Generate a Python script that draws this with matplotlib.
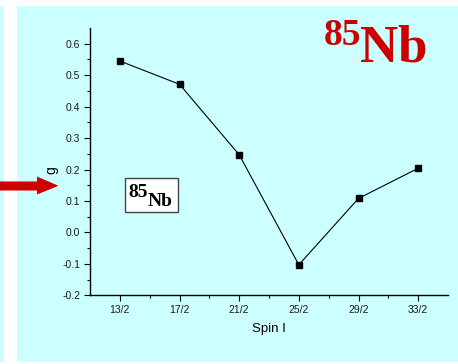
import matplotlib
matplotlib.use("Agg")
import matplotlib.pyplot as plt
import matplotlib.patches as mpatches
import numpy as np

# Spin values and measured g-factors for 85Nb
spins = ["13/2", "17/2", "21/2", "25/2", "29/2", "33/2"]
g_values = [0.545, 0.471, 0.247, -0.103, 0.108, 0.204]
y_ticks = [-0.2, -0.1, 0.0, 0.1, 0.2, 0.3, 0.4, 0.5, 0.6]

W, H = 458, 364
fig = plt.figure(figsize=(W / 100, H / 100), dpi=100, facecolor="white")

cyan = "#CCFFFF"
red = "#CC0000"

def px(x, y):
    """Pixel position (from top-left) to figure fraction."""
    return x / W, 1 - y / H

# background panels
fig.patches.append(mpatches.Rectangle(px(0, 362), 4 / W, 356 / H,
                                      transform=fig.transFigure, facecolor=cyan,
                                      edgecolor="none", zorder=-2))
fig.patches.append(mpatches.Rectangle(px(17, 362), (W - 17) / W, 356 / H,
                                      transform=fig.transFigure, facecolor=cyan,
                                      edgecolor="none", zorder=-2))

ax = fig.add_axes([90 / W, 1 - 295.3 / H, (448 - 90) / W, (295.3 - 28) / H])
ax.set_facecolor("none")
ax.set_zorder(1)

x = np.arange(len(spins))
ax.plot(x, g_values, color="black", lw=0.8, marker="s", ms=4.5,
        markerfacecolor="black", markeredgecolor="black")

ax.set_xlim(-0.5, len(spins) - 0.5)
ax.set_ylim(-0.2, 0.65)
ax.set_xticks(x)
ax.set_xticklabels(spins)
ax.set_xticks(x[:-1] + 0.5, minor=True)
ax.set_yticks(y_ticks)
ax.set_yticklabels([f"{v:.1f}" for v in y_ticks])
ax.set_yticks(np.arange(-0.15, 0.65, 0.1), minor=True)

for side in ("top", "right"):
    ax.spines[side].set_visible(False)
for side in ("left", "bottom"):
    ax.spines[side].set_linewidth(1.0)

ax.tick_params(axis="both", which="major", direction="out", length=4, width=0.8,
               labelsize=7.5, colors="black", labelcolor="#1a1a1a", pad=3)
ax.tick_params(axis="both", which="minor", direction="out", length=2.5, width=0.8)

for lbl in ax.get_xticklabels() + ax.get_yticklabels():
    lbl.set_family("Liberation Sans")

ax.set_xlabel("Spin I", fontsize=9.5, family="Liberation Sans", labelpad=6)
fig.text(*px(51.7, 170), "g", rotation=90, fontsize=10, family="Liberation Sans",
         ha="center", va="center")

# boxed label inside the plot
fig.patches.append(mpatches.Rectangle(px(125, 212), 53 / W, 34 / H,
                                      transform=fig.transFigure, facecolor="white",
                                      edgecolor="#444444", lw=1.0, zorder=3))
fig.text(*px(128, 197), "85", fontsize=14, family="Liberation Serif",
         weight="bold", ha="left", va="baseline", zorder=4)
fig.text(*px(148, 205.5), "Nb", fontsize=14, family="Liberation Serif",
         weight="bold", ha="left", va="baseline", zorder=4)

# big red title
fig.text(*px(324, 45), "85", fontsize=27, family="Liberation Serif",
         weight="bold", color=red, ha="left", va="baseline")
fig.text(*px(360, 62), "Nb", fontsize=38, family="Liberation Serif",
         weight="bold", color=red, ha="left", va="baseline")

# red arrow pointing at the axis
verts = [(0, 181.5), (37, 181.5), (37, 176.5), (58.5, 185.8), (37, 194.5),
         (37, 190.5), (0, 190.5)]
fig.patches.append(mpatches.Polygon([px(a, b) for a, b in verts], closed=True,
                                    transform=fig.transFigure, facecolor=red,
                                    edgecolor="none", zorder=5))

fig.savefig("out.png", dpi=100, facecolor="white")
